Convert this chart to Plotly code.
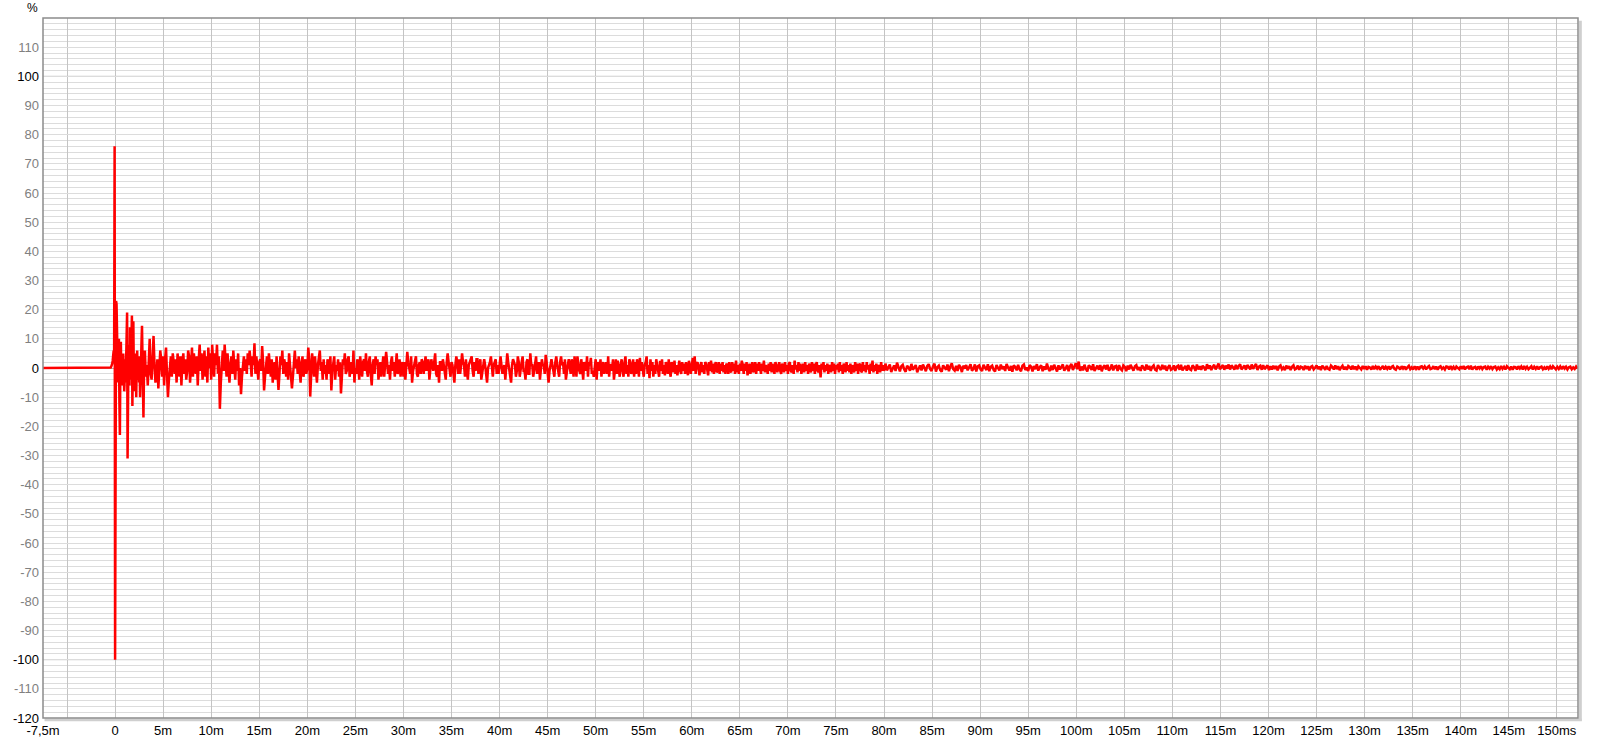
import numpy as np
import plotly.graph_objects as go

# ---------------- data (time in ms, amplitude in %) ----------------
LEAD_T = [-7.5]
LEAD_V = [0.0]

# impulse region, 0.05 ms sampling, starting at -0.5 ms
A_START, A_STEP = -0.5, 0.05
A_VALS = [0, 0.2, 0.5, 0.8, 1.5, 2.5, 4, 6, 3, 76,
          -100, -8, 23, 22, 8, 12, -5, 4, 10, -12,
          -23, 2, 9, -3, 4, -6, 1, 5, -2, -8,
          -4, 3, -5, 6, 15, 19, -31, -5, 8, 2,
          -6, 14, 4, -4, 10, 18, -13, 6, 16, -2,
          -8, 3, -2, 5, -10, 2, 6, -4, 1, 3,
          -5, 4, -10, 2, 6, 9, 14.5, 3, -2, -17,
          -4]

# 3.1 .. 10.0 ms, 0.1 ms sampling
B_START, B_STEP = 3.1, 0.1
B_VALS = [6, -3, 1, -6, 4, 10, -2, -4, 3, 11,
          1, -5, -2, 3, -7, 2, 6, 3, -3, 4,
          -6, 3, 7, -2, -10, -4, 1, 4, -3, 5,
          2, -2, 3, -5, 5, 1, -3, 4, -6, 2,
          5, -2, 3, -4, -1, 6, 4, -5, 2, 7,
          -3, 5, 1, -2, 4, -6, 3, 8, -1, 5,
          -4, 2, 6, -3, 4, -5, 7, 0, 5, -4]

# 10.1 .. 80.0 ms, 0.1 ms sampling
C_START, C_STEP = 10.1, 0.1
C_VALS = [8, 2, -3, 5, 1, 8, -2, 4, -14, -5,
          3, 6, -1, 8, 2, -3, 5, -1, -5, 1,
          4, -2, 6, 1, -4, 3, -1, 5, -6, 0,
          -9, -3, 2, 4, -1, 3, -2, 5, 1, 6,
          2, -3, 4, 1, 8.5, -2, 4, -1, -4, 2,
          3, -1, 7.5, 2, -7.7, -3, 1, 4, -2, 5,
          1, -3, 3, -5, 0, 2, -4, 4, -2, -7.5,
          -2, 4, 1, 6, -2, 3, 1, -3, 2, -4,
          5, 1, -2, -7, -3, 2, 6, 0, 3, -2,
          4, -1, -5, 2, 4, -3, 1, 3, -2, 0,
          7, 3, -9.8, -2, 5, 1, -3, 4, -2, -5,
          1, 3, 6, -1, 2, -4, 3, -2, 1, -4,
          3, 1, -2, 4, -7.7, -1, 2, 4, -4, 1,
          -1, 3, -3, 2, -8.7, -2, 3, 1, 5, -2,
          -1, 3, 4, -3, 1, 2, -2, 6, -5, 0,
          -2, 3, 1, -4, 4, 1, -3, 2, 3, -1,
          5, -1, -3, 2, 4, -2, -6, 1, 3, -2,
          4, 1, 3, -4, -1, 2, -3, 1, 4, -3,
          1, 5.5, 2, -2, 1, -4, 2, 4, -1, 2,
          -3, 1, 5, -2, -1, 3, -3, 1, 2, -3,
          2, -4, 1, 5.5, 2, -1, -2, 4, -5, -1,
          1, 3, 4, -2, -3, 1, 2, -2, 3, 2,
          -2, 1, 4, -1, 1, 3, -4, 0, 3, 1,
          -1, 2, 5, -2, -3, 1, -5, 2, 2, -1,
          3, 1, -1, -4, 2, 5, 2, -1, -3, 2,
          1, -2, -5, 1, 4, 2, -2, 3, -2, 1,
          5, 2, 1, -3, 3, -1, -4, 1, 2, 3,
          4, -1, -3, 2, -1, 3, 3, -2, 1, 3,
          -4, -1, 2, 3, 1, -2, -5, 0, 1, 2,
          4, -1, -3, 1, 2, 3, -2, 1, -2, 2,
          4, 1, -2, 0, 1, -4, 3, 5, 2, -1,
          -3, -5, 1, 3, 2, 1, -3, -1, 4, 2,
          -3, 1, 2, 4, -1, -1, -4, 2, 3, -2,
          -2, 5, 1, 1, -3, -1, 2, 4, -2, 1,
          2, -4, -1, 3, 1, 1, -2, 4.5, 2, -3,
          -5, -1, 2, 3, 1, -1, -3, 2, 4, 1,
          -1, -3, 2, 4, 1, 2, -2, 3, -4, 0,
          1, 3, -1, -2, 3, 1, -3, 4, 1, -3,
          4, 1, -1, -2, 3, 0, -4, 2, 1, -1,
          4, -3, 2, 1, 3.5, -2, -1, -3, 1, 3,
          -4, 2, 1, -1, 3, -3, 1, 2, -2, 1,
          2, -2, 4, -3, 1, 1, -1, 3, -4, -1,
          3, -2, 2.5, 0, -3, 1, 3, -1, -3, 2,
          4, -2, 1, -3, 3, 2, -2, -1, 3, -3,
          2, -2, 3, 1, -3, 3.5, -1, 2, -2, -3,
          1, 2, 4, -2, 1, -3.5, 3, -1, 2, -3,
          1, -2, 3, 1, -2, -3, 2.5, -1, 3, -2,
          1, -2.5, 2, 1, -2, 3, -1, -3, 2, 1,
          -1.5, 2.5, -2, 1, -2.5, 1.5, 2.5, -1, -2, 2,
          -1, 1.5, -2, 2, -1, -2.5, 2.5, 1, -2, 1.5,
          3.5, -1, 4, -2, 1.5, 2, -1, -2.5, 1, 2,
          -1.5, 1, -2, 2, 1.5, -1, -2.5, 2, -1, 2.5,
          -1.5, 1.5, -2, 1, 2, -1.5, -1, 2, -2, 1.5,
          -1, 2, -1.5, 1, -2, 1.5, 1, -2, 2, -1,
          -1.5, 2, -1, 1.5, -2, 2.5, -1.5, 1, -2, 1.5,
          -1, 2.5, 1, -2, 1.5, -1, 2, -2.5, 0.5, 1.5,
          -2, 1, 2, -1.5, -0.5, 2, -2, 1.5, -1, 2,
          0.5, -2, 1.5, -1, 2.5, -1.5, 1, 0, -2, 1.5,
          -1, 2, -1.5, 1.5, -0.5, -2, 2, 1, -1.5, 1,
          2, -1, -2, 1.5, 0.5, -1.5, 2, -1, 1, -2,
          1.5, 2, -1, -1.5, 1, -2, 2.5, -0.5, 1, -1.5,
          2, -1, 1.5, -2, 0.5, 1.5, -1.5, 2, -1, 1,
          -2, 1.5, 0, -1.5, 2, -1, 1.5, -2, 1, 2,
          -1, -1.5, 1, -3.2, 1.5, -0.5, 2, -1.5, 1, -1,
          1.5, -2, 1, 0.5, -1.5, 2, -1, 1.5, -2, 1,
          -0.5, 1.5, -1.5, 2, -1, 1, -2, 1.5, 0.5, -1.5,
          2, -1, 1, -1.5, 1.5, -2, 1, 0, -1.5, 2,
          -1, 1.5, -2, 1, 1.5, -1, -1.5, 2, -1, 1,
          -1.5, 2, -0.5, 1, -2, 1.5, -1, 2.5, -1.5, 1,
          -1, 1.5, -2, 1, 0.5, -1.5, 2, -1, 1, -1]

# 80.15 .. 152.15 ms, 0.15 ms sampling
E_START, E_STEP = 80.15, 0.15
E_VALS = [1.5, -0.8, 0.3, 1.2, -1.4, -0.2, 0.9, -1.0, 1.8, 0.4,
          -1.2, 0.6, 1.1, -0.5, -1.3, 0.8, 0.2, -0.9, 1.4, -0.6,
          0.5, 1.0, -1.5, -0.3, 0.9, -0.8, 1.2, 0.1, -1.1, 0.7,
          1.3, -0.4, -1.0, 0.6, 1.5, -1.2, 0.3, 0.8, -0.7, -1.3,
          0.9, 0.2, -0.6, 1.2, -1.1, 0.5, 1.6, -0.4, -0.9, 0.7,
          -1.0, 1.1, 0.3, -1.4, 0.8, -0.2, 1.0, -0.8, 0.4, 1.3,
          -0.9, -0.3, 1.2, -1.2, 0.6, 0.9, -0.5, -1.0, 1.1, 0.2,
          -0.7, 1.3, -1.1, 0.4, 0.8, -0.6, -1.2, 1.0, 0.3, -0.8,
          1.2, -0.4, 0.6, -1.0, 1.4, 0.1, -0.9, 0.7, -1.3, 0.9,
          0.4, -0.8, 1.1, -0.5, -1.1, 0.8, 1.2, -0.7, 0.2, -1.0,
          1.0, 0.5, -1.2, 0.7, -0.4, 1.3, -0.9, 0.3, 0.9, -1.1,
          0.6, -0.6, 1.5, -0.3, -1.0, 0.8, -0.7, 1.1, 0.2, -1.2,
          0.9, -0.5, 0.4, 1.2, -0.9, -0.2, 1.0, -1.1, 0.6, 1.4,
          -0.7, 0.8, 1.6, -0.4, 2.2, -1.0, 0.5, -0.8, 1.1, -0.3,
          -1.2, 0.9, 0.4, -0.7, 1.3, -1.0, 0.2, 0.8, -0.6, 1.0,
          -1.1, 0.3, 0.9, -0.5, 1.1, -0.9, -0.2, 1.2, -0.8, 0.5,
          0.7, -1.0, 1.0, -0.3, -0.8, 0.9, 0.4, -1.1, 0.8, -0.5,
          1.1, -0.2, -0.9, 0.6, 1.0, -0.7, 0.3, -1.0, 0.9, 0.1,
          -0.8, 1.2, -0.5, 0.7, -1.0, 0.4, 0.9, -0.6, -0.9, 1.0,
          0.3, -0.7, 1.1, -0.4, 0.8, -0.9, 0.2, 1.0, -0.6, -0.3,
          0.9, -1.0, 0.5, 0.8, -0.6, 1.1, -0.8, 0.2, 0.7, -0.9,
          1.0, -0.4, -0.7, 0.9, 0.3, -1.0, 1.2, -0.5, 0.6, -0.6,
          0.8, 0.2, -0.8, 1.3, -0.3, 0.9, -0.7, 0.4, 1.1, -0.5,
          0.6, 1.5, -0.4, 0.3, 1.0, -0.6, 0.8, -0.2, 1.2, -0.5,
          0.9, 0.3, -0.6, 1.1, -0.4, 0.7, 1.3, -0.5, 0.2, 0.9,
          -0.6, 1.0, 0.4, -0.5, 1.2, -0.3, 0.6, 1.4, -0.7, 0.5,
          0.8, -0.6, 1.0, -0.4, 0.3, 0.9, -0.7, 0.6, -0.5, 0.8,
          -0.3, 0.7, -0.8, 0.5, 0.9, -0.4, 0.2, -0.7, 0.8, -0.2,
          0.6, -0.7, 0.4, 0.9, -0.5, -0.2, 0.8, -0.6, 0.5, 0.3,
          -0.7, 0.8, -0.3, 0.6, -0.8, 0.4, 0.7, -0.5, 0.1, 0.9,
          -0.4, 0.5, -0.7, 0.8, 0.2, -0.6, 0.7, -0.3, -0.6, 0.8,
          0.3, -0.5, 0.9, -0.4, 0.6, -0.7, 0.2, 0.8, -0.5, 0.4,
          -0.6, 0.7, 0.3, -0.5, 0.8, -0.4, 0.5, -0.7, 0.6, 0.1,
          -0.5, 0.7, -0.3, 0.6, -0.6, 0.4, 0.2, -0.5, 0.7, -0.4,
          0.5, -0.2, 0.6, -0.6, 0.3, 0.7, -0.5, 0.4, -0.3, 0.6,
          -0.5, 0.4, 0.7, -0.3, -0.6, 0.5, 0.2, -0.5, 0.6, -0.2,
          0.5, -0.6, 0.3, 0.8, -0.4, 0.2, -0.5, 0.6, -0.3, 0.5,
          -0.6, 0.4, 0.6, -0.2, 0.5, -0.5, 0.3, 0.7, -0.4, -0.2,
          0.6, -0.4, 0.5, -0.6, 0.3, 0.6, -0.3, 0.2, -0.5, 0.5,
          0.4, -0.5, 0.7, -0.3, 0.4, -0.6, 0.5, 0.2, -0.4, 0.6,
          -0.3, 0.7, -0.5, 0.3, 0.5, -0.4, 0.8, -0.5, 0.2, 0.4,
          -0.6, 0.5, -0.2, 0.6, -0.4, 0.3, 0.5, -0.6, 0.4, -0.2,
          0.6, -0.4, 0.3, 0.5, -0.5, 0.2, -0.4, 0.7, -0.3, 0.4,
          -0.5, 0.6, 0.2, -0.4, 0.5, -0.6, 0.4, 0.3, -0.5, 0.6,
          -0.2, 0.5, -0.5, 0.7, -0.3, 0.4, -0.4, 0.2, 0.6, -0.5,
          0.4, -0.3, 0.6, -0.5, 0.3, 0.5, -0.4, 0.2, -0.5, 0.6,
          -0.3, 0.5, -0.4, 0.6, 0.2, -0.5, 0.4, -0.3, 0.5, -0.4,
          0.6, -0.2, 0.4, -0.5, 0.3, 0.5, -0.4, 0.2, -0.3, 0.5,
          -0.2]

X_TICK_VALS = [-7.5, -5] + list(range(0, 151, 5))
X_TICK_TEXT = ["-7,5m", "", "0"] + [f"{v}m" for v in range(5, 146, 5)] + ["150ms"]
Y_TICK_VALS = list(range(-120, 111, 10))
Y_DARK_LABELS = [-120, -100, 0, 100]

# ---------------- build series ----------------
def seg(start, step, vals):
    t = np.round(start + step * np.arange(len(vals)), 4)
    return list(t), list(vals)

t_all, v_all = list(LEAD_T), list(LEAD_V)
for s, st, vv in [(A_START, A_STEP, A_VALS), (B_START, B_STEP, B_VALS),
                  (C_START, C_STEP, C_VALS), (E_START, E_STEP, E_VALS)]:
    t, v = seg(s, st, vv)
    t_all += t
    v_all += v

y_text = [(f"<span style='color:#000000'>{v}</span>" if v in Y_DARK_LABELS else str(v))
          for v in Y_TICK_VALS]

fig = go.Figure()
fig.add_trace(go.Scatter(x=t_all, y=v_all, mode="lines",
                         line=dict(color="#ff0000", width=2.5), showlegend=False,
                         hoverinfo="skip"))

FONT_FAMILY = "Liberation Sans, Arial, sans-serif"
font = dict(family=FONT_FAMILY, size=13, color="#000000")

fig.update_layout(
    width=1600, height=743,
    margin=dict(l=43, r=22, t=18, b=25, pad=0, autoexpand=False),
    paper_bgcolor="#ffffff", plot_bgcolor="#ffffff",
    font=font,
    xaxis=dict(range=[-7.5, 152.2], tickmode="array", tickvals=X_TICK_VALS,
               ticktext=X_TICK_TEXT, showgrid=True, gridcolor="#c4c4c4", gridwidth=1,
               zeroline=False, ticks="", showline=False, fixedrange=True,
               automargin=False, ticklabelstandoff=3,
               tickfont=dict(family=FONT_FAMILY, size=13, color="#000000")),
    yaxis=dict(range=[-120, 120], tickmode="array", tickvals=Y_TICK_VALS,
               ticktext=y_text, showgrid=True, gridcolor="#dcdcdc", gridwidth=1,
               minor=dict(tickmode="linear", tick0=0, dtick=2, showgrid=True,
                          gridcolor="#dcdcdc", gridwidth=1, ticks=""),
               zeroline=True, zerolinecolor="#b0b0b0", zerolinewidth=1,
               ticks="", showline=False, fixedrange=True, automargin=False,
               ticklabelstandoff=3,
               tickfont=dict(family=FONT_FAMILY, size=13, color="#808080")),
    shapes=[
        dict(type="line", xref="paper", yref="y", x0=0, x1=1, y0=100, y1=100,
             line=dict(color="#b0b0b0", width=1), layer="below"),
        dict(type="line", xref="paper", yref="y", x0=0, x1=1, y0=-100, y1=-100,
             line=dict(color="#b0b0b0", width=1), layer="below"),
        # shadow on right and bottom
        dict(type="rect", xref="paper", yref="paper", x0=1.0006, x1=1.0025, y0=-0.004, y1=0.996,
             fillcolor="#cfcfcf", line=dict(width=0), layer="above"),
        dict(type="rect", xref="paper", yref="paper", x0=0.001, x1=1.0025, y0=-0.0045, y1=-0.0008,
             fillcolor="#cfcfcf", line=dict(width=0), layer="above"),
        # frame
        dict(type="rect", xref="paper", yref="paper", x0=0, x1=1, y0=0, y1=1,
             line=dict(color="#8c8c8c", width=1.5), layer="above"),
    ],
    annotations=[dict(text="%", xref="paper", yref="paper", x=-0.007, y=1.0,
                      xanchor="center", yanchor="bottom", yshift=1, showarrow=False,
                      font=dict(family=FONT_FAMILY, size=12, color="#000000"))],
)

fig.write_html("out.html", config={"displayModeBar": False},
               post_script="document.body.style.margin='0px';"
                           "document.body.style.overflow='hidden';")
